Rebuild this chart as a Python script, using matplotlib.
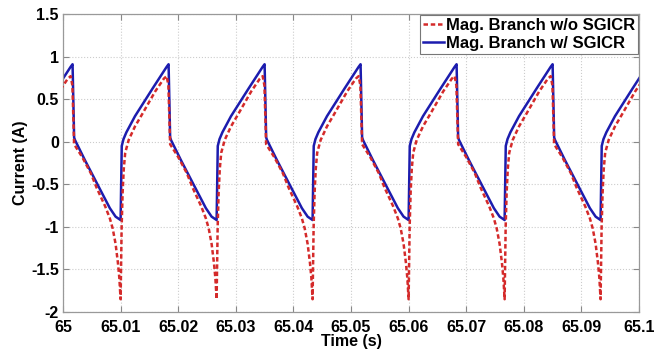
import numpy as np
import matplotlib as mpl
mpl.use('Agg')
import matplotlib.pyplot as plt
from matplotlib.ticker import FixedLocator

# trough instants (one per 60 Hz cycle)
trough_times = [64.99333, 65.01000, 65.02667, 65.04333, 65.06000, 65.07667, 65.09333]

# one cycle, offsets (s) after the trough
blue_offset = [0.0, 0.0002, 0.0005, 0.0010, 0.0025, 0.0056, 0.0080, 0.00833,
               0.0086, 0.00875, 0.0105, 0.0128, 0.0148, 0.0158]
blue_value = [-0.92, -0.05, 0.03, 0.11, 0.30, 0.63, 0.88, 0.91,
              0.05, 0.02, -0.22, -0.52, -0.78, -0.88]

red_offset = [0.0, 0.00008, 0.00018, 0.00035, 0.00055, 0.0008, 0.0014, 0.0025,
              0.0038, 0.0060, 0.0075, 0.0080, 0.0083, 0.0086, 0.0100, 0.0115,
              0.0125, 0.0140, 0.0148, 0.0153, 0.0158, 0.0162, 0.01645]
red_value = [-1.85, -1.45, -1.0, -0.6, -0.32, -0.13, 0.02, 0.18,
             0.33, 0.59, 0.74, 0.77, 0.66, -0.03, -0.18, -0.37,
             -0.54, -0.76, -0.9, -1.02, -1.2, -1.42, -1.6]

x_ticks = [65, 65.01, 65.02, 65.03, 65.04, 65.05, 65.06, 65.07, 65.08, 65.09, 65.1]
x_labels = ['65', '65.01', '65.02', '65.03', '65.04', '65.05', '65.06',
            '65.07', '65.08', '65.09', '65.1']
y_ticks = [1.5, 1, 0.5, 0, -0.5, -1, -1.5, -2]
y_labels = ['1.5', '1', '0.5', '0', '-0.5', '-1', '-1.5', '-2']

labels = ['Mag. Branch w/o SGICR', 'Mag. Branch w/ SGICR']


def build(offsets, values):
    t, v = [], []
    for t0 in trough_times:
        t.extend(t0 + np.array(offsets))
        v.extend(values)
    return np.array(t), np.array(v)


t_red, i_red = build(red_offset, red_value)
t_blue, i_blue = build(blue_offset, blue_value)

mpl.rcParams['font.family'] = ['Liberation Sans', 'DejaVu Sans']
mpl.rcParams['font.weight'] = 'bold'

fig = plt.figure(figsize=(6.68, 3.52), dpi=100)
ax = fig.add_axes([63 / 668, 1 - 312 / 352, 576 / 668, 298 / 352])

ax.plot(t_red, i_red, color='#d42a2a', lw=1.8, ls=(0, (1.8, 1.1)), label=labels[0], zorder=3)
ax.plot(t_blue, i_blue, color='#1c1cae', lw=1.8, label=labels[1], zorder=2)

ax.set_xlim(65, 65.1)
ax.set_ylim(-2, 1.5)
ax.xaxis.set_major_locator(FixedLocator(x_ticks))
ax.set_xticklabels(x_labels)
ax.yaxis.set_major_locator(FixedLocator(y_ticks))
ax.set_yticklabels(y_labels)

ax.tick_params(direction='in', length=4, width=0.8, color='#888888',
               top=True, right=True, labelsize=11.5)
ax.tick_params(axis='x', pad=6)
ax.tick_params(axis='y', pad=3)
for lab in ax.get_xticklabels() + ax.get_yticklabels():
    lab.set_fontweight('bold')
for s in ax.spines.values():
    s.set_color('#999999')
    s.set_linewidth(0.9)

ax.grid(True, ls=':', color='#cccccc', lw=0.8)
ax.set_axisbelow(True)

ax.set_xlabel('Time (s)', fontsize=11.5, fontweight='bold', labelpad=-1)
ax.set_ylabel('Current (A)', fontsize=11.5, fontweight='bold', labelpad=2)

leg = ax.legend(loc='upper right', handlelength=1.25, handletextpad=0.1,
                borderaxespad=0.05, borderpad=0.2, labelspacing=0.15,
                fancybox=False, framealpha=1, prop={'weight': 'bold', 'size': 12})
leg.get_frame().set_edgecolor('#777777')
leg.get_frame().set_linewidth(0.8)

fig.savefig('out.png', dpi=100)
